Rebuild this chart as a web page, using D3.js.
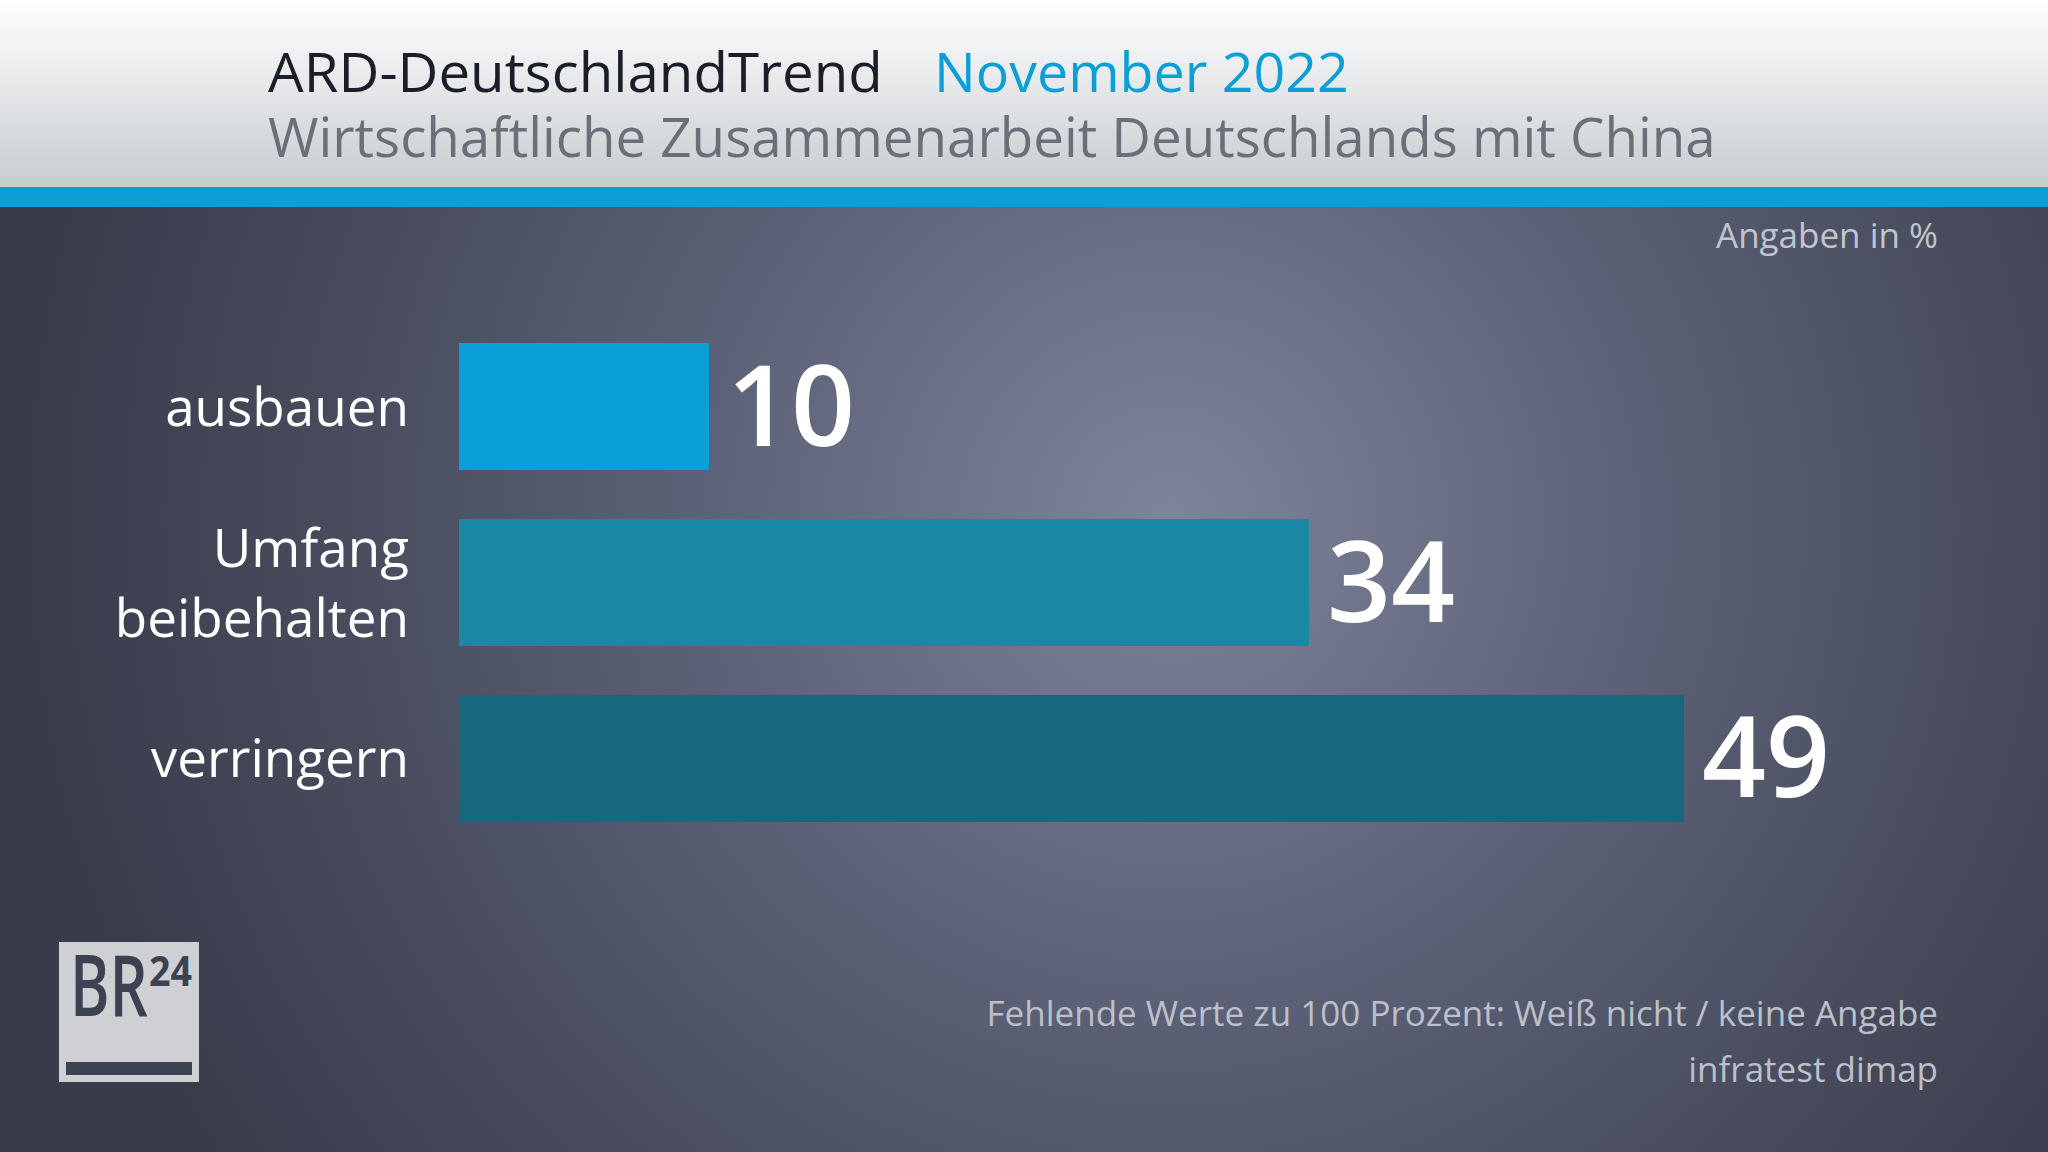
<!DOCTYPE html>
<html>
<head>
<meta charset="utf-8">
<script src="https://cdn.jsdelivr.net/npm/d3@7"></script>
<style>
  html, body { margin: 0; padding: 0; background: #3a3e4e; }
  svg { display: block; }
  text { font-family: "Open Sans", "Noto Sans", sans-serif; }
</style>
</head>
<body>
<svg id="chart" width="2048" height="1152"></svg>
<script>
// ---- data ----
const titleMain = "ARD-DeutschlandTrend";
const titleDate = "November 2022";
const subtitle = "Wirtschaftliche Zusammenarbeit Deutschlands mit China";
const unitNote = "Angaben in %";
const footnotes = ["Fehlende Werte zu 100 Prozent: Weiß nicht / keine Angabe", "infratest dimap"];
const categories = ["ausbauen", "Umfang beibehalten", "verringern"];
const categoryLines = [["ausbauen"], ["Umfang", "beibehalten"], ["verringern"]];
const values = [10, 34, 49];
const barColors = ["#0b9fd8", "#1a88a4", "#17677e"];

// ---- drawing ----
const W = 2048, H = 1152;
const svg = d3.select("#chart");
const defs = svg.append("defs");

const hg = defs.append("linearGradient").attr("id", "hdr").attr("x1", 0).attr("y1", 0).attr("x2", 0).attr("y2", 1);
hg.append("stop").attr("offset", "0%").attr("stop-color", "#ffffff");
hg.append("stop").attr("offset", "100%").attr("stop-color", "#c8ccd0");

const rg = defs.append("radialGradient").attr("id", "bg")
  .attr("gradientUnits", "userSpaceOnUse")
  .attr("cx", 1170).attr("cy", 520).attr("r", 1150);
rg.append("stop").attr("offset", "0%").attr("stop-color", "#7f849b");
rg.append("stop").attr("offset", "40%").attr("stop-color", "#5d6278");
rg.append("stop").attr("offset", "75%").attr("stop-color", "#464a5b");
rg.append("stop").attr("offset", "100%").attr("stop-color", "#383b4a");

svg.append("rect").attr("x", 0).attr("y", 0).attr("width", W).attr("height", H).attr("fill", "url(#bg)");
svg.append("rect").attr("x", 0).attr("y", 0).attr("width", W).attr("height", 188).attr("fill", "url(#hdr)");
svg.append("rect").attr("x", 0).attr("y", 187).attr("width", W).attr("height", 20).attr("fill", "#0b9fd8");

// helper: place text at (x,y) and squeeze horizontally to a target width
function fitted(parent, str, x, y, size, target, opts) {
  const g = parent.append("g");
  const t = g.append("text").attr("font-size", size).text(str);
  Object.entries(opts || {}).forEach(([k, v]) => t.attr(k, v));
  const natural = t.node().getComputedTextLength();
  const sx = Math.min(1.1, target / natural);
  g.attr("transform", `translate(${x},${y}) scale(${sx},1)`);
  return t;
}

// header texts
fitted(svg, titleMain, 268, 92, 54, 615, { fill: "#1b1e29" });
fitted(svg, titleDate, 934, 92, 54, 415, { fill: "#0b9fd8" });
fitted(svg, subtitle, 268, 157, 55, 1448, { fill: "#6a7079" });

svg.append("text").attr("x", 1938).attr("y", 248).attr("text-anchor", "end")
  .attr("font-size", 35).attr("fill", "#c2c5cd")
  .text(unitNote);

// scales
const x = d3.scaleLinear().domain([0, 50]).range([459, 1709]);
const y = d3.scaleBand().domain(categories).range([343, 822]).paddingInner(0.278).paddingOuter(0);

const rows = svg.append("g").selectAll("g").data(categories).join("g");

rows.append("rect")
  .attr("x", x(0))
  .attr("y", d => y(d))
  .attr("width", (d, i) => x(values[i]) - x(0))
  .attr("height", y.bandwidth())
  .attr("fill", (d, i) => barColors[i]);

rows.append("text")
  .attr("x", (d, i) => x(values[i]) + 18)
  .attr("y", d => y(d) + y.bandwidth() / 2 + 39)
  .attr("font-size", 112).attr("font-weight", 600).attr("fill", "#ffffff")
  .text((d, i) => values[i]);

rows.each(function(d, i) {
  const lines = categoryLines[i];
  const cy = y(d) + y.bandwidth() / 2;
  const lh = 70;
  const t = d3.select(this).append("text")
    .attr("text-anchor", "end")
    .attr("font-size", 53).attr("fill", "#ffffff");
  lines.forEach((ln, j) => {
    t.append("tspan").attr("x", 409)
      .attr("y", cy + 19 + (j - (lines.length - 1) / 2) * lh)
      .text(ln);
  });
});

// footnotes
svg.append("g").selectAll("text").data(footnotes).join("text")
  .attr("x", 1938).attr("y", (d, i) => 1026 + i * 56)
  .attr("text-anchor", "end").attr("font-size", 35).attr("fill", "#bcc0c8")
  .text(d => d);

// logo
const logo = svg.append("g");
logo.append("rect").attr("x", 59).attr("y", 942).attr("width", 140).attr("height", 140).attr("fill", "#cfd0d4");
fitted(logo, "BR", 70, 1016, 86, 78, { fill: "#3d4252", "font-weight": 600 });
fitted(logo, "24", 149, 986, 42, 43, { fill: "#3d4252", "font-weight": 700 });
logo.append("rect").attr("x", 66).attr("y", 1062).attr("width", 126).attr("height", 13).attr("fill", "#3d4252");
</script>
</body>
</html>
